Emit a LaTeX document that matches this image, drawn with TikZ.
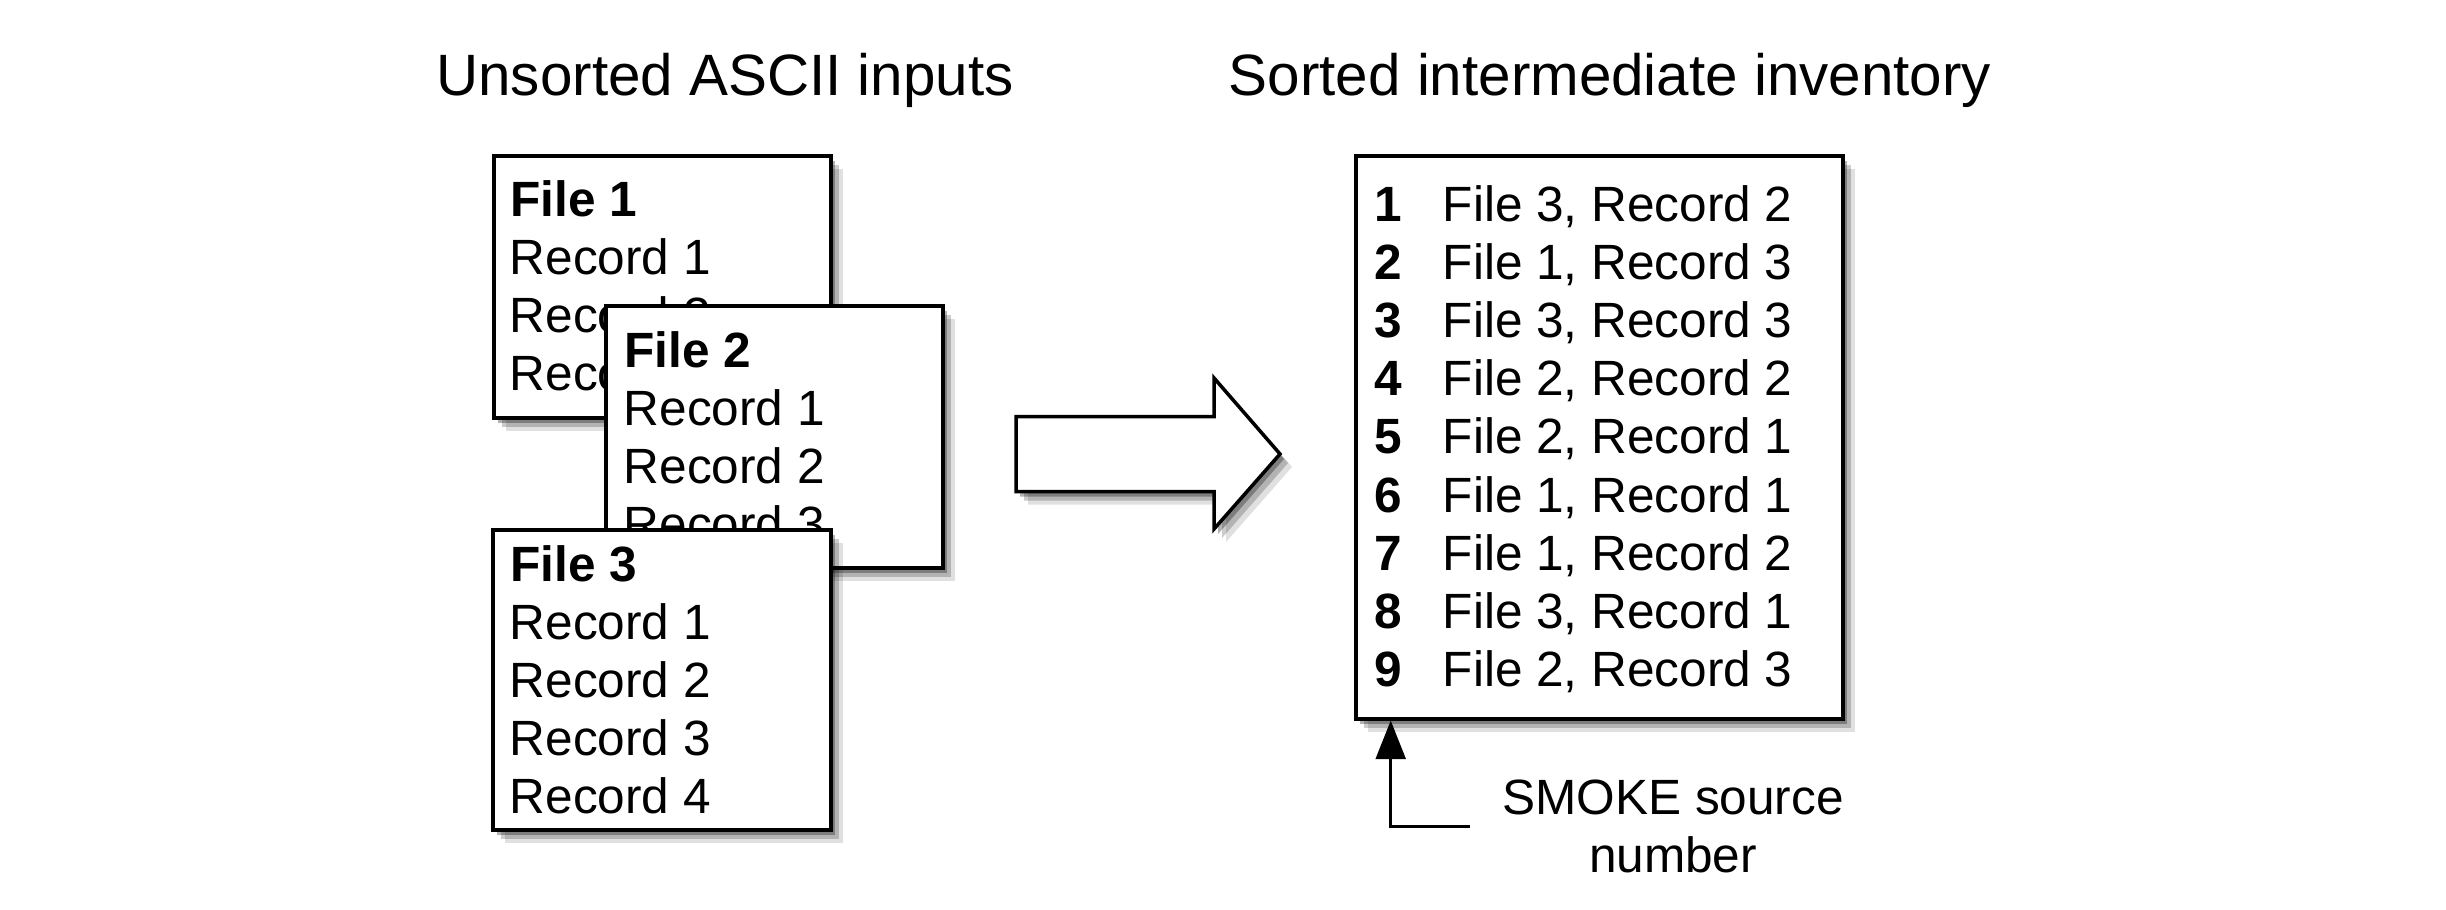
\documentclass[tikz,border=0pt]{standalone}
\usepackage{fontspec}
\setmainfont{Liberation Sans}
\usetikzlibrary{shadows,arrows.meta}

\tikzset{
  softshadow/.style={
    drop shadow={shadow xshift=0.4mm,shadow yshift=-0.5mm,opacity=0.3,fill=black},
    drop shadow={shadow xshift=0.8mm,shadow yshift=-0.9mm,opacity=0.2,fill=black},
    drop shadow={shadow xshift=1.2mm,shadow yshift=-1.3mm,opacity=0.12,fill=black}},
  card/.style={draw,line width=1pt,fill=white,anchor=north west,inner sep=0pt,softshadow},
  rec/.style={anchor=base west,inner sep=0pt,font=\fontsize{14.1}{16.5}\selectfont},
  recb/.style={rec,font=\fontsize{14.1}{16.5}\selectfont\bfseries},
  heading/.style={anchor=base,inner sep=0pt,font=\fontsize{16.6}{20}\selectfont},
  bigarrow/.style={line width=1pt,fill=white,line join=miter,softshadow}
}

\begin{document}
\begin{tikzpicture}
    \useasboundingbox (0,0) rectangle (24.46,-9.09);

    \node[heading] (intitle) at (7.25,-0.95) {Unsorted ASCII inputs};
    \node[heading] (outtitle) at (16.10,-0.95) {Sorted intermediate inventory};

    \node[card,minimum width=3.37cm,minimum height=2.62cm] (file1) at (4.92,-1.54) {};
    \node[recb] (f1title) at (5.10,-2.167) {File 1};
    \foreach \r in {1,2,3}
        \node[rec] (f1rec\r) at (5.09,{-2.167-0.58*\r}) {Record \r};

    \node[card,minimum width=3.37cm,minimum height=2.62cm] (file2) at (6.04,-3.04) {};
    \node[recb] (f2title) at (6.24,-3.677) {File 2};
    \foreach \r in {1,2,3}
        \node[rec] (f2rec\r) at (6.23,{-3.677-0.58*\r}) {Record \r};

    \node[card,minimum width=3.38cm,minimum height=3.0cm] (file3) at (4.91,-5.28) {};
    \node[recb] (f3title) at (5.10,-5.817) {File 3};
    \foreach \r in {1,2,3,4}
        \node[rec] (f3rec\r) at (5.09,{-5.817-0.58*\r}) {Record \r};

    \draw[bigarrow] (10.16,-4.167) -- (12.14,-4.167) -- (12.14,-3.78) -- (12.80,-4.54)
        -- (12.14,-5.29) -- (12.14,-4.917) -- (10.16,-4.917) -- cycle;

    \node[card,minimum width=4.87cm,minimum height=5.63cm] (inv) at (13.54,-1.54) {};
    \foreach \n/\f/\r in {1/3/2,2/1/3,3/3/3,4/2/2,5/2/1,6/1/1,7/1/2,8/3/1,9/2/3}{
        \node[recb] (num\n) at (13.735,{-2.21-0.582*(\n-1)}) {\n};
        \node[rec] (row\n) at (14.42,{-2.21-0.582*(\n-1)}) {File \f, Record \r};
    }

    \node[align=center,inner xsep=0.32cm,inner ysep=0pt,font=\fontsize{14.1}{16.5}\selectfont] (smoke) at (16.73,-8.26) {SMOKE source\\number};
    \draw[line width=0.85pt,-{Triangle[width=8.5pt,length=11pt]}] (smoke.west) -| ([xshift=0.367cm]inv.south west);
\end{tikzpicture}
\end{document}
